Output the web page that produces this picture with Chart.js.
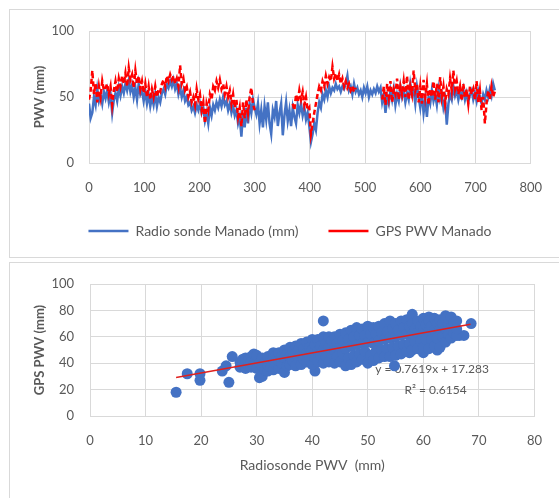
<!DOCTYPE html>
<html>
<head>
<meta charset="utf-8">
<script src="https://cdn.jsdelivr.net/npm/chart.js@4.4.1/dist/chart.umd.min.js"></script>
<style>
  html, body { margin: 0; padding: 0; background: #ffffff; }
  body { width: 559px; height: 498px; position: relative; overflow: hidden; }
  .panel { position: absolute; border: 1px solid #d9d9d9; background: #ffffff; }
  canvas { position: absolute; left: 0; }
</style>
</head>
<body>
<div class="panel" style="left:9px; top:9px; width:560px; height:247px;"></div>
<div class="panel" style="left:9px; top:262px; width:560px; height:240px;"></div>
<canvas id="seriesChart" width="559" height="248" style="top:0;"></canvas>
<canvas id="scatterChart" width="559" height="238" style="top:260px;"></canvas>
<script>
"use strict";

// Top panel: daily PWV, one value every 3 days (day 0 .. 735)
const dayStep = 3;
const radioSonde = [
	45, 34, 38, 50, 44, 56, 47, 52, 45, 54,
	49, 55, 46, 52, 38, 48, 53, 47, 57, 51,
	58, 53, 60, 55, 62, 54, 59, 50, 57, 48,
	60, 52, 55, 47, 54, 45, 52, 43, 50, 44,
	52, 43, 50, 46, 53, 56, 52, 60, 57, 62,
	58, 63, 56, 60, 52, 57, 50, 55, 47, 50,
	44, 46, 40, 43, 38, 44, 40, 45, 38, 42,
	32, 38, 30, 42, 36, 44, 40, 46, 42, 48,
	43, 50, 44, 47, 40, 45, 38, 43, 36, 40,
	30, 35, 20, 38, 27, 42, 30, 45, 38, 48,
	42, 37, 45, 30, 40, 27, 43, 33, 46, 30,
	22, 40, 35, 47, 28, 38, 45, 21, 36, 46,
	32, 40, 28, 42, 35, 30, 44, 38, 45, 36,
	42, 33, 38, 28, 16, 22, 30, 25, 38, 46,
	42, 52, 48, 55, 50, 58, 53, 57, 55, 60,
	56, 58, 54, 58, 56, 60, 66, 55, 58, 52,
	60, 54, 57, 52, 55, 50, 57, 53, 58, 50,
	55, 52, 56, 53, 58, 54, 57, 46, 52, 38,
	50, 45, 55, 48, 56, 44, 52, 47, 58, 50,
	55, 46, 53, 48, 60, 52, 55, 45, 58, 50,
	42, 53, 38, 48, 35, 50, 45, 55, 47, 52,
	44, 56, 48, 52, 42, 48, 29, 45, 52, 48,
	58, 51, 55, 48, 54, 50, 56, 48, 53, 46,
	52, 55, 48, 53, 47, 55, 50, 45, 52, 48,
	55, 50, 56, 51, 60, 55
];
const gpsPwv = [
	48, 55, 70, 52, 60, 46, 58, 50, 62, 55,
	57, 60, 52, 58, 44, 55, 62, 54, 64, 58,
	66, 60, 68, 58, 72, 63, 67, 57, 70, 60,
	66, 56, 62, 53, 60, 50, 58, 48, 56, 50,
	58, 50, 56, 54, 60, 63, 58, 66, 62, 67,
	63, 66, 60, 64, 58, 74, 60, 64, 55, 58,
	50, 54, 46, 50, 44, 56, 48, 52, 40, 46,
	30, 45, 40, 52, 48, 58, 55, 62, 57, 63,
	56, 60, 52, 58, 50, 55, 45, 52, 42, 48,
	35, 42, 28, 46, 34, 48, 38, 50, 57, 45,
	40, null, null, null, null, null, null, null, null, null,
	null, null, null, null, null, null, null, null, null, null,
	null, null, null, 45, 40, 52, 46, 55, 48, 54,
	44, 50, 40, 42, 22, 30, 38, 45, 52, 58,
	55, 62, 58, 66, 60, 65, 62, 73, 64, 68,
	62, 67, 60, 64, 58, 62, 57, 60, 55, 58,
	54, 57, null, null, null, null, null, null, null, null,
	null, null, null, null, null, null, null, 48, 58, 44,
	60, 50, 62, 46, 56, 52, 64, 48, 58, 52,
	62, 50, 66, 48, 58, 52, 70, 55, 60, 46,
	58, 45, 63, 50, 60, 44, 56, 50, 62, 48,
	60, 46, 65, 50, 58, 45, 56, 52, 64, 55,
	70, 56, 62, 52, 58, 47, 60, 50, 56, 45,
	58, 52, 56, 48, 62, 46, 55, 40, 50, 30,
	45, 55, 48, 58, 50, 54
];
const seriesXTicks = [0, 100, 200, 300, 400, 500, 600, 700, 800];
const seriesYTicks = [0, 50, 100];

// Bottom panel: radiosonde PWV vs GPS PWV (mm)
const scatterPairs = [
	[15.5, 18], [17.5, 32], [19.8, 32], [19.8, 27], [23.8, 34], [24.5, 38], [25, 25.5], [25.6, 45],
	[42, 72], [40.5, 34], [54.8, 38], [58, 77], [68.6, 70], [66.5, 61], [67.3, 61], [64, 76],
	[60, 48], [57.5, 48], [62.5, 50], [61, 75],
	[27, 37], [27, 41], [27.5, 43], [27.5, 39], [28, 36], [28, 44], [28, 40], [28.5, 38], [28.5, 42],
	[29, 37], [29, 45], [29, 41], [29.5, 39], [29.5, 47], [30, 36], [30, 43], [30, 46], [30.5, 40], [30.5, 29],
	[31, 44], [31, 38], [31, 30], [31.5, 41], [31.5, 35], [32, 34], [32, 45], [32, 39], [32.5, 42], [32.5, 37],
	[33, 35], [33, 48], [33, 43], [33.5, 39], [33.5, 46], [34, 36], [34, 48], [34, 42], [34.5, 40], [34.5, 45],
	[35, 33], [35, 50], [35, 44], [35.5, 38], [35.5, 47], [36, 39], [36, 52], [36, 45], [36.5, 42], [36.5, 49],
	[37, 38], [37, 53], [37, 47], [37.5, 44], [37.5, 50], [38, 39], [38, 55], [38, 47], [38.5, 43], [38.5, 51],
	[39, 41], [39, 56], [39, 48], [39.5, 45], [39.5, 52], [40, 39], [40, 58], [40, 50], [40.5, 44], [40.5, 54],
	[41, 41], [41, 58], [41, 49], [41.5, 46], [41.5, 53], [42, 40], [42, 60], [42, 50], [42.5, 45], [42.5, 55],
	[43, 41], [43, 60], [43, 52], [43.5, 47], [43.5, 57], [44, 40], [44, 60], [44, 50], [44.5, 45], [44.5, 55],
	[45, 41], [45, 62], [45, 52], [45.5, 47], [45.5, 57], [46, 38], [46, 63], [46, 51], [46.5, 44], [46.5, 58],
	[47, 39], [47, 65], [47, 53], [47.5, 46], [47.5, 60], [48, 41], [48, 67], [48, 54], [48.5, 47], [48.5, 61],
	[49, 43], [49, 66], [49, 55], [49.5, 49], [49.5, 61], [50, 40], [50, 68], [50, 56], [50.5, 46], [50.5, 62],
	[51, 42], [51, 67], [51, 55], [51.5, 49], [51.5, 62], [52, 44], [52, 68], [52, 57], [52.5, 50], [52.5, 63],
	[53, 45], [53, 70], [53, 58], [53.5, 51], [53.5, 64], [54, 45], [54, 72], [54, 59], [54.5, 52], [54.5, 66],
	[55, 46], [55, 70], [55, 60], [55.5, 53], [55.5, 65], [56, 47], [56, 72], [56, 61], [56.5, 54], [56.5, 67],
	[57, 49], [57, 73], [57, 62], [57.5, 55], [57.5, 68], [58, 50], [58, 70], [58, 62], [58.5, 56], [58.5, 66],
	[59, 51], [59, 72], [59, 63], [59.5, 57], [59.5, 68], [60, 52], [60, 74], [60, 64], [60.5, 58], [60.5, 69],
	[61, 51], [61, 72], [61, 64], [61.5, 58], [61.5, 68], [62, 53], [62, 74], [62, 65], [62.5, 59], [62.5, 70],
	[63, 52], [63, 73], [63, 66], [63.5, 60], [63.5, 70], [64, 56], [64, 74], [64, 66], [64.5, 62], [64.5, 70],
	[65, 59], [65, 75], [65, 67], [65.5, 63], [65.5, 71], [66, 61], [66, 72], [66, 66]
];
const trendSlope = 0.7619;
const trendIntercept = 17.283;
const trendRange = [15.5, 68.5];
const trendLabels = ["y = 0.7619x + 17.283", "R\u00b2 = 0.6154"];

const textGray = "#595959";
const gridGray = "#d9d9d9";
const fontFamily = "Lato, 'Open Sans', sans-serif";

Chart.defaults.font.family = fontFamily;
Chart.defaults.color = textGray;

const seriesChart = new Chart(document.getElementById("seriesChart"), {
	type: "line",
	data: {
		datasets: [{
			label: "Radio sonde Manado (mm)",
			data: radioSonde.map((v, i) => ({ x: i * dayStep, y: v })),
			borderColor: "#4472C4",
			backgroundColor: "#4472C4",
			borderWidth: 2.5,
			pointRadius: 0,
			order: 1
		}, {
			label: "GPS PWV Manado",
			data: gpsPwv.map((v, i) => ({ x: i * dayStep, y: v })),
			borderColor: "#FF0000",
			backgroundColor: "#FF0000",
			borderWidth: 2.5,
			borderDash: [5, 3],
			pointRadius: 0,
			order: 0
		}]
	},
	options: {
		responsive: false,
		animation: false,
		layout: { padding: { top: 31, right: 23, bottom: 0, left: 44 } },
		plugins: {
			tooltip: { enabled: false },
			legend: {
				position: "bottom",
				labels: {
					usePointStyle: true,
					pointStyle: "line",
					pointStyleWidth: 40,
					boxHeight: 13,
					padding: 30,
					color: textGray,
					font: { size: 14 },
					sort: (a, b) => a.datasetIndex - b.datasetIndex
				}
			}
		},
		scales: {
			x: {
				type: "linear",
				min: 0,
				max: 800,
				afterBuildTicks: s => { s.ticks = seriesXTicks.map(v => ({ value: v })); },
				afterFit: s => { s.height = 31; },
				grid: { color: gridGray, drawTicks: false },
				border: { color: gridGray },
				ticks: { padding: 17, font: { size: 13 }, color: textGray }
			},
			y: {
				min: 0,
				max: 100,
				afterBuildTicks: s => { s.ticks = seriesYTicks.map(v => ({ value: v })); },
				afterFit: s => { s.width = 45; },
				grid: { color: gridGray, drawTicks: false },
				border: { color: gridGray },
				ticks: { padding: 15, font: { size: 13 }, color: textGray },
				title: {
					display: true,
					text: "PWV (mm)",
					color: textGray,
					font: { size: 13, weight: "bold" },
					padding: { top: -12, bottom: 0 }
				}
			}
		}
	}
});

const trendTextPlugin = {
	id: "trendText",
	beforeDatasetsDraw(chart) {
		const { ctx, scales } = chart;
		ctx.save();
		ctx.fillStyle = textGray;
		ctx.font = "12px " + fontFamily;
		ctx.textBaseline = "middle";
		ctx.textAlign = "right";
		ctx.fillText(trendLabels[0], scales.x.getPixelForValue(71.8), scales.y.getPixelForValue(35.6));
		ctx.fillText(trendLabels[1], scales.x.getPixelForValue(67.8), scales.y.getPixelForValue(19.7));
		ctx.restore();
	}
};

const scatterChart = new Chart(document.getElementById("scatterChart"), {
	type: "scatter",
	data: {
		datasets: [{
			type: "line",
			label: "Linear (GPS PWV)",
			data: trendRange.map(x => ({ x: x, y: trendSlope * x + trendIntercept })),
			borderColor: "#E0201E",
			borderWidth: 1.5,
			pointRadius: 0,
			order: 0
		}, {
			label: "GPS PWV",
			data: scatterPairs.map(p => ({ x: p[0], y: p[1] })),
			backgroundColor: "#4472C4",
			borderColor: "#4472C4",
			pointRadius: 5.5,
			borderWidth: 0,
			order: 1
		}]
	},
	plugins: [trendTextPlugin],
	options: {
		responsive: false,
		animation: false,
		layout: { padding: { top: 24, right: 20, bottom: 0, left: 0 } },
		plugins: { legend: { display: false }, tooltip: { enabled: false } },
		scales: {
			x: {
				type: "linear",
				min: 0,
				max: 80,
				ticks: { stepSize: 10, padding: 17, font: { size: 13 }, color: textGray },
				afterFit: s => { s.height = 82; },
				grid: { color: gridGray, drawTicks: false },
				border: { color: gridGray },
				title: {
					display: true,
					text: "Radiosonde PWV  (mm)",
					color: textGray,
					font: { size: 14 },
					padding: { top: 0, bottom: 24 }
				}
			},
			y: {
				min: 0,
				max: 100,
				ticks: { stepSize: 20, padding: 16, font: { size: 13 }, color: textGray },
				afterFit: s => { s.width = 90; },
				grid: { color: gridGray, drawTicks: false },
				border: { color: gridGray },
				title: {
					display: true,
					text: "GPS PWV (mm)",
					color: textGray,
					font: { size: 13, weight: "bold" },
					padding: { top: 32, bottom: 0 }
				}
			}
		}
	}
});
</script>
</body>
</html>
